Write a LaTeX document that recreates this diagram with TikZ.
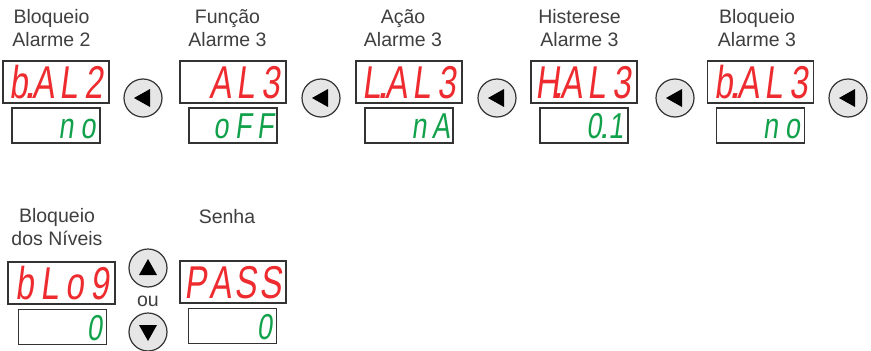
\documentclass[tikz,border=0pt]{standalone}
\usepackage{graphicx}
\usepackage{fontspec}
\setmainfont{Liberation Sans}
\newfontfamily\segfont[FakeSlant=0.18]{Liberation Sans}
\definecolor{segred}{HTML}{EE2B2E}
\definecolor{seggreen}{HTML}{12A14B}
\definecolor{labelgray}{HTML}{3F3F3F}
\definecolor{btnfill}{HTML}{E6E6E6}
\definecolor{boxline}{HTML}{333333}
\newcommand\rc[1]{\makebox[25pt][c]{\scalebox{0.72}[1]{#1}}}
\newcommand\gc[1]{\makebox[22pt][c]{\scalebox{0.75}[1]{#1}}}
\newcommand\segdot{\rlap{\kern-0.17em.}}
\tikzset{
  lbl/.style={anchor=base, inner sep=0pt, align=center, text=labelgray, font=\fontsize{19.5}{23}\selectfont},
  redbox/.style={draw=boxline, line width=1.4pt, minimum width=106pt, minimum height=42pt, inner sep=0pt},
  greenbox/.style={draw=boxline, line width=1.4pt, minimum width=88pt, minimum height=35pt, inner sep=0pt},
  redtxt/.style={anchor=base east, inner sep=0pt, text=segred, font=\segfont\fontsize{46}{46}\selectfont},
  greentxt/.style={anchor=base east, inner sep=0pt, text=seggreen, font=\segfont\fontsize{36}{36}\selectfont},
  btn/.style={circle, draw=boxline, line width=1.2pt, fill=btnfill, minimum size=38pt, inner sep=0pt},
}
\newcommand\lefttri[1]{\fill[black] (#1.center) ++(-9,0) -- ++(16,-9) -- ++(0,18) -- cycle;}
\begin{document}
\begin{tikzpicture}[x=1pt,y=-1pt]
\useasboundingbox[fill=white] (0,0) rectangle (871,351);
% ---- row 1 ----
\node[lbl] (l1) at (51.5,46) {Bloqueio\\Alarme 2};
\node[lbl] (l2) at (227.5,46) {Função\\Alarme 3};
\node[lbl] (l3) at (403,46) {Ação\\Alarme 3};
\node[lbl] (l4) at (579.5,46) {Histerese\\Alarme 3};
\node[lbl] (l5) at (757,46) {Bloqueio\\Alarme 3};
\foreach \i/\cx in {1/56,2/233,3/409,4/584,5/760.5}{
  \node[redbox] (r\i) at (\cx,82) {};
  \node[greenbox] (g\i) at (\cx,125.5) {};
}
\node[redtxt] (rt1) at ([xshift=-3pt]r1.east |- 0,98) {\rc{b}\segdot\rc{A}\rc{L}\rc{2}};
\node[redtxt] (rt2) at ([xshift=-3pt]r2.east |- 0,98) {\rc{A}\rc{L}\rc{3}};
\node[redtxt] (rt3) at ([xshift=-3pt]r3.east |- 0,98) {\rc{L}\segdot\rc{A}\rc{L}\rc{3}};
\node[redtxt] (rt4) at ([xshift=-3pt]r4.east |- 0,98) {\rc{H}\segdot\rc{A}\rc{L}\rc{3}};
\node[redtxt] (rt5) at ([xshift=-3pt]r5.east |- 0,98) {\rc{b}\segdot\rc{A}\rc{L}\rc{3}};
\node[greentxt] (gt1) at ([xshift=-1.5pt]g1.east |- 0,138) {\gc{n}\gc{o}};
\node[greentxt] (gt2) at ([xshift=-1.5pt]g2.east |- 0,138) {\gc{o}\gc{F}\gc{F}};
\node[greentxt] (gt3) at ([xshift=-1.5pt]g3.east |- 0,138) {\gc{n}\gc{A}};
\node[greentxt] (gt4) at ([xshift=-1.5pt]g4.east |- 0,138) {\gc{0}\segdot\gc{1}};
\node[greentxt] (gt5) at ([xshift=-1.5pt]g5.east |- 0,138) {\gc{n}\gc{o}};
\foreach \i/\bx in {1/143,2/321,3/497,4/675,5/848}{
  \node[btn] (b\i) at (\bx,98) {};
  \lefttri{b\i}
}
% ---- row 2 ----
\node[lbl] (l6) at (57,245) {Bloqueio\\dos Níveis};
\node[lbl] (l7) at (227,223) {Senha};
\node[redbox, minimum width=107pt] (r6) at (61.5,283) {};
\node[greenbox] (g6) at (62.5,327) {};
\node[redbox] (r7) at (233,282) {};
\node[greenbox] (g7) at (232.5,326) {};
\node[redtxt] (rt6) at ([xshift=-3pt]r6.east |- 0,299) {\rc{b}\rc{L}\rc{o}\rc{9}};
\node[redtxt] (rt7) at ([xshift=-3pt]r7.east |- 0,298) {\rc{P}\rc{A}\rc{S}\rc{S}};
\node[greentxt] (gt6) at ([xshift=-1.5pt]g6.east |- 0,340) {\gc{0}};
\node[greentxt] (gt7) at ([xshift=-1.5pt]g7.east |- 0,339) {\gc{0}};
\node[btn] (up) at (148,268) {};
\fill[black] (up.center) ++(0,-9) -- ++(9,16) -- ++(-18,0) -- cycle;
\node[lbl, anchor=center] (ou) at (148,301) {ou};
\node[btn] (down) at (148,332) {};
\fill[black] (down.center) ++(0,9) -- ++(9,-16) -- ++(-18,0) -- cycle;
\end{tikzpicture}
\end{document}
